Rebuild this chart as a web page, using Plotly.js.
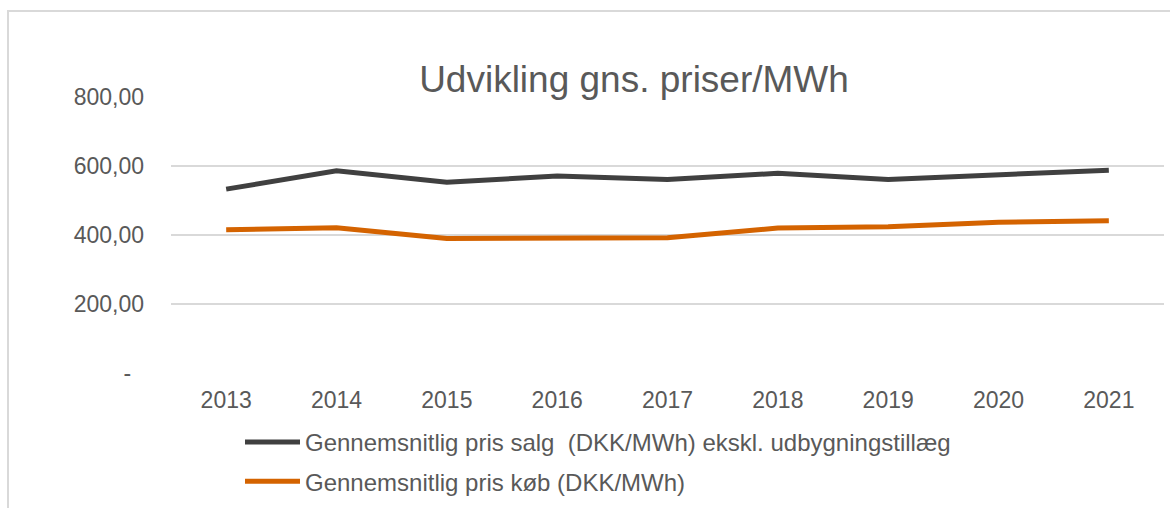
<!DOCTYPE html>
<html>
<head>
<meta charset="utf-8">
<script src="https://cdn.plot.ly/plotly-3.0.1.min.js"></script>
<style>
  html, body { margin: 0; padding: 0; background: #ffffff; }
  #wrap { position: relative; width: 1170px; height: 508px; overflow: hidden; }
  #chart { position: absolute; left: 0; top: 0; width: 1170px; height: 508px; }
  #frame { position: absolute; left: 7px; top: 10px; width: 1300px; height: 600px;
           border-left: 2px solid #d9d9d9; border-top: 2px solid #d9d9d9; pointer-events: none; }
</style>
</head>
<body>
<div id="wrap">
  <div id="chart"></div>
  <div id="frame"></div>
</div>
<script>
// Data
const years = ["2013", "2014", "2015", "2016", "2017", "2018", "2019", "2020", "2021"];
const salgValues = [533, 586, 553, 571, 561, 579, 561, 576, 588];
const kobValues = [415, 421, 390, 392, 392, 420, 424, 437, 441];
const seriesNames = [
  "Gennemsnitlig pris salg  (DKK/MWh) ekskl. udbygningstillæg",
  "Gennemsnitlig pris køb (DKK/MWh)"
];
const yTickVals = [0, 200, 400, 600, 800];
const yTickText = ["-\u00a0\u00a0", "200,00", "400,00", "600,00", "800,00"];
const chartTitle = "Udvikling gns. priser/MWh";

const fontFamily = "Liberation Sans, Arial, sans-serif";
const textColor = "#595959";

const traces = [
  {
    x: years, y: salgValues, type: "scatter", mode: "lines",
    name: seriesNames[0], legendgroup: "a",
    line: { color: "#404040", width: 5 },
    hoverinfo: "skip"
  },
  {
    x: years, y: kobValues, type: "scatter", mode: "lines",
    name: seriesNames[1], legendgroup: "b",
    line: { color: "#d46300", width: 5 },
    hoverinfo: "skip"
  }
];

const layout = {
  width: 1170, height: 508,
  paper_bgcolor: "rgba(0,0,0,0)", plot_bgcolor: "rgba(0,0,0,0)",
  margin: { l: 171, r: 6, t: 97, b: 135, autoexpand: false },
  font: { family: fontFamily, color: textColor, size: 23 },
  title: {
    text: chartTitle,
    font: { family: fontFamily, size: 37, color: textColor },
    x: 634 / 1170, xanchor: "center", xref: "container",
    y: 1 - 79 / 508, yanchor: "middle", yref: "container"
  },
  xaxis: {
    type: "category", range: [-0.5, 8.5],
    showgrid: false, zeroline: false, showline: false, ticks: "",
    tickfont: { family: fontFamily, size: 23, color: textColor },
    ticklabelstandoff: 11, fixedrange: true
  },
  yaxis: {
    range: [0, 800], tickvals: yTickVals, ticktext: yTickText,
    showgrid: true, gridcolor: "#d9d9d9", gridwidth: 1.5,
    zeroline: false, showline: false, ticks: "",
    tickfont: { family: fontFamily, size: 23, color: textColor },
    ticklabelstandoff: 26, fixedrange: true
  },
  showlegend: true,
  legend: {
    orientation: "v", xref: "container", yref: "container",
    x: 240 / 1170, xanchor: "left", y: 1 - 420 / 508, yanchor: "top",
    font: { family: fontFamily, size: 24, color: textColor },
    itemwidth: 55, tracegroupgap: 5, bgcolor: "rgba(0,0,0,0)",
    traceorder: "grouped"
  }
};

Plotly.newPlot("chart", traces, layout, { displayModeBar: false, staticPlot: true });
</script>
</body>
</html>
